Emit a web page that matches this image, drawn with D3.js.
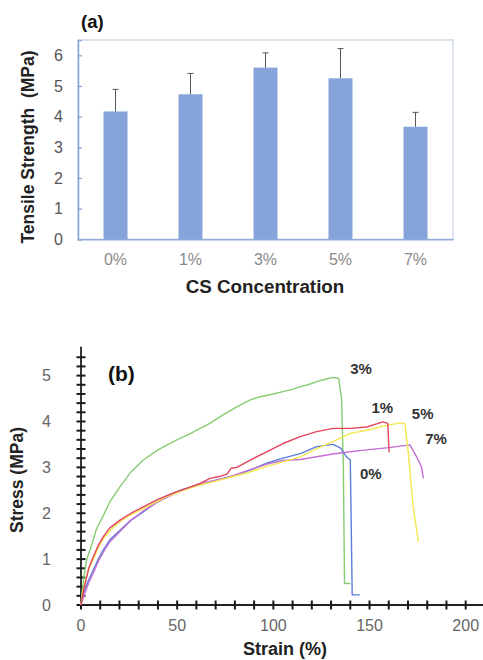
<!DOCTYPE html>
<html><head><meta charset="utf-8">
<script src="https://cdn.jsdelivr.net/npm/d3@7"></script>
<style>body{margin:0;background:#fff}svg{display:block}text{font-family:"Liberation Sans",Arial,sans-serif}</style>
</head><body>
<svg id="c" width="483" height="660"></svg>
<script>
// ---- Panel (a) data ----
const categories = ["0%", "1%", "3%", "5%", "7%"];
const strengthMean = [4.17, 4.73, 5.6, 5.25, 3.67];
const strengthErr = [0.72, 0.68, 0.48, 0.97, 0.47];
const yTicksA = [0, 1, 2, 3, 4, 5, 6];

// ---- Panel (b) data (strain %, stress MPa) ----
const strain0 = [0, 1.2, 3.5, 6.4, 9, 11.6, 15, 20.3, 26, 32.4, 38, 44.5, 53, 62, 70.5, 79, 88, 96.5, 105, 114, 122.5, 127, 131, 135, 138, 140, 140.4, 141, 145];
const stress0 = [0, 0.25, 0.5, 0.76, 1.0, 1.2, 1.42, 1.63, 1.85, 2.03, 2.2, 2.38, 2.52, 2.62, 2.72, 2.81, 2.94, 3.09, 3.2, 3.3, 3.45, 3.48, 3.5, 3.42, 3.23, 3.16, 2.0, 0.22, 0.22];
const strain1 = [0, 1.5, 4, 6.4, 9, 11.6, 15, 20.3, 26, 32.4, 40, 49.8, 56, 62, 67, 72, 76, 78, 81, 88, 96.5, 105, 114, 122.5, 131, 140, 148.5, 157, 159.5, 160, 160.2];
const stress1 = [0, 0.35, 0.8, 1.05, 1.3, 1.49, 1.68, 1.85, 2.0, 2.14, 2.3, 2.47, 2.56, 2.65, 2.76, 2.8, 2.86, 2.98, 3.0, 3.16, 3.34, 3.52, 3.67, 3.78, 3.85, 3.85, 3.88, 3.99, 3.96, 3.5, 3.33];
const strain3 = [0, 0.5, 1.5, 3, 5.5, 8, 11.6, 15, 20.3, 26, 32.4, 40, 49.8, 56, 62, 67, 74, 81, 88, 93, 100, 105, 110, 114, 118, 122.5, 127, 131, 134, 135.5, 136.4, 137, 140];
const stress3 = [0, 0.25, 0.6, 1.0, 1.3, 1.65, 1.95, 2.25, 2.58, 2.9, 3.16, 3.38, 3.6, 3.72, 3.85, 3.96, 4.15, 4.32, 4.47, 4.54, 4.6, 4.65, 4.7, 4.76, 4.8, 4.87, 4.92, 4.96, 4.94, 4.47, 3.0, 0.47, 0.47];
const strain5 = [0, 1.5, 4, 6.4, 9, 11.6, 15, 20.3, 26, 32.4, 44.5, 53, 62, 70, 79, 88, 96.5, 105, 114, 122.5, 131, 140, 148.5, 157, 166, 168.4, 170, 172.7, 175.4];
const stress5 = [0, 0.4, 0.78, 1.0, 1.25, 1.45, 1.62, 1.82, 1.97, 2.1, 2.36, 2.5, 2.62, 2.7, 2.8, 2.9, 3.02, 3.12, 3.23, 3.41, 3.56, 3.74, 3.81, 3.9, 3.97, 3.95, 3.38, 2.14, 1.38];
const strain7 = [0, 1.5, 4, 6.4, 9, 11.6, 15, 20.3, 26, 32.4, 40, 49.8, 62, 70, 79, 88, 96.5, 105, 114, 122.5, 131, 140, 148.5, 160, 171, 174.5, 177, 178];
const stress7 = [0, 0.2, 0.48, 0.7, 0.95, 1.15, 1.38, 1.6, 1.85, 2.05, 2.25, 2.45, 2.65, 2.72, 2.82, 2.95, 3.07, 3.15, 3.17, 3.23, 3.29, 3.34, 3.38, 3.43, 3.49, 3.23, 3.01, 2.76];
const curveNames = ["0%", "1%", "3%", "5%", "7%"];
const xTicksB = [0, 50, 100, 150, 200];
const yTicksB = [0, 1, 2, 3, 4, 5];

const svg = d3.select("#c");

// ================= Panel (a) =================
const xA = d3.scaleBand().domain(categories).range([78, 453]).paddingInner(0.68).paddingOuter(0.34);
const yA = d3.scaleLinear().domain([0, 6.5]).range([239.3, 40]);

svg.append("rect").attr("x", 78).attr("y", 40).attr("width", 375).attr("height", 199.3)
  .attr("fill", "none").attr("stroke", "#c9d5e6").attr("stroke-width", 1.3);

const bars = categories.map((c, i) => ({c, v: strengthMean[i], e: strengthErr[i]}));
svg.selectAll("rect.bar").data(bars).enter().append("rect").attr("class", "bar")
  .attr("x", d => xA(d.c)).attr("width", xA.bandwidth())
  .attr("y", d => yA(d.v)).attr("height", d => yA(0) - yA(d.v))
  .attr("fill", "#86a4da");

const eg = svg.selectAll("g.err").data(bars).enter().append("g").attr("class", "err");
eg.append("line").attr("x1", d => xA(d.c) + xA.bandwidth() / 2).attr("x2", d => xA(d.c) + xA.bandwidth() / 2)
  .attr("y1", d => yA(d.v)).attr("y2", d => yA(d.v + d.e)).attr("stroke", "#555").attr("stroke-width", 1);
eg.append("line").attr("x1", d => xA(d.c) + xA.bandwidth() / 2 - 3).attr("x2", d => xA(d.c) + xA.bandwidth() / 2 + 3)
  .attr("y1", d => yA(d.v + d.e)).attr("y2", d => yA(d.v + d.e)).attr("stroke", "#555").attr("stroke-width", 1);

const yAxA = svg.append("g").attr("transform", "translate(78,0)")
  .call(d3.axisLeft(yA).tickValues(yTicksA).tickSize(-4).tickPadding(15).tickFormat(d3.format("d")));
yAxA.select(".domain").attr("stroke", "#8eaadb").attr("stroke-width", 1.6);
yAxA.selectAll(".tick line").attr("stroke", "#7f9bd0").attr("stroke-width", 1.2);
yAxA.selectAll(".tick text").attr("fill", "#555").attr("font-size", 16).attr("font-family", "Liberation Sans, Arial, sans-serif");

const xAxA = svg.append("g").attr("transform", "translate(0,239.3)")
  .call(d3.axisBottom(xA).tickSize(0).tickPadding(14));
xAxA.select(".domain").attr("stroke", "#8eaadb").attr("stroke-width", 1.5);
xAxA.selectAll(".tick text").attr("fill", "#8a8a8a").attr("font-size", 16).attr("font-family", "Liberation Sans, Arial, sans-serif");

svg.append("text").attr("x", 265).attr("y", 293).attr("text-anchor", "middle")
  .attr("font-size", 18.8).attr("font-weight", "bold").attr("fill", "#222").text("CS Concentration");
svg.append("text").attr("transform", "translate(34,147) rotate(-90)").attr("text-anchor", "middle")
  .attr("font-size", 17.5).attr("font-weight", "bold").attr("fill", "#222").attr("xml:space", "preserve").text("Tensile Strength  (MPa)");
svg.append("text").attr("x", 81).attr("y", 28).attr("font-size", 18.5).attr("font-weight", "bold").attr("fill", "#111").text("(a)");

// ================= Panel (b) =================
const xB = d3.scaleLinear().domain([0, 209]).range([81, 483]);
const yB = d3.scaleLinear().domain([0, 5.63]).range([605, 346.7]);

const xMinor = d3.range(0, 210, 10);
const yMinor = d3.range(0, 28).map(i => i * 0.2);

// axis lines
svg.append("line").attr("x1", xB(0)).attr("x2", xB(209)).attr("y1", yB(0)).attr("y2", yB(0))
  .attr("stroke", "#222").attr("stroke-width", 1.8);
svg.append("line").attr("x1", xB(0)).attr("x2", xB(0)).attr("y1", yB(0)).attr("y2", yB(5.63))
  .attr("stroke", "#222").attr("stroke-width", 1.8);
// cross-shaped tick marks on both axes
svg.append("g").selectAll("line").data(xMinor).join("line")
  .attr("x1", d => xB(d)).attr("x2", d => xB(d))
  .attr("y1", yB(0) - 4.5).attr("y2", yB(0) + 4.5)
  .style("stroke", "#1a1a1a").style("stroke-width", "2px");
svg.append("g").selectAll("line").data(yMinor).join("line")
  .attr("y1", d => yB(d)).attr("y2", d => yB(d))
  .attr("x1", xB(0) - 4.5).attr("x2", xB(0) + 4.5)
  .style("stroke", "#1a1a1a").style("stroke-width", "2px");

svg.selectAll("text.xl").data(xTicksB).enter().append("text").attr("class", "xl")
  .attr("x", d => xB(d)).attr("y", 631).attr("text-anchor", "middle")
  .attr("font-size", 16).attr("fill", "#666").text(d => d);
svg.selectAll("text.yl").data(yTicksB).enter().append("text").attr("class", "yl")
  .attr("x", 51).attr("y", d => yB(d) + 5.5).attr("text-anchor", "end")
  .attr("font-size", 16).attr("fill", "#666").text(d => d);

const curves = [
  {n: "3%", x: strain3, y: stress3, col: "#86cc72"},
  {n: "0%", x: strain0, y: stress0, col: "#5a7fd8"},
  {n: "7%", x: strain7, y: stress7, col: "#c46fd4"},
  {n: "5%", x: strain5, y: stress5, col: "#f3e64e"},
  {n: "1%", x: strain1, y: stress1, col: "#e2445e"}
];
const line = d3.line().x(d => xB(d[0])).y(d => yB(d[1]));
svg.selectAll("path.crv").data(curves).enter().append("path").attr("class", "crv")
  .attr("d", d => line(d.x.map((v, i) => [v, d.y[i]])))
  .attr("fill", "none").attr("stroke", d => d.col).attr("stroke-width", 1.4).attr("stroke-linejoin", "round");

const labelPos = {"3%": [140, 5.03], "1%": [151, 4.18], "5%": [172, 4.05], "7%": [179, 3.5], "0%": [145, 2.75]};
svg.selectAll("text.cl").data(curveNames).enter().append("text").attr("class", "cl")
  .attr("x", d => xB(labelPos[d][0])).attr("y", d => yB(labelPos[d][1]))
  .attr("font-size", 15).attr("font-weight", "bold").attr("fill", "#333").text(d => d);

svg.append("text").attr("x", 108).attr("y", 381).attr("font-size", 21).attr("font-weight", "bold").attr("fill", "#111").text("(b)");
svg.append("text").attr("x", 285).attr("y", 655).attr("text-anchor", "middle")
  .attr("font-size", 18).attr("font-weight", "bold").attr("fill", "#222").text("Strain (%)");
svg.append("text").attr("transform", "translate(23,480) rotate(-90)").attr("text-anchor", "middle")
  .attr("font-size", 17.5).attr("font-weight", "bold").attr("fill", "#222").text("Stress (MPa)");
</script>
</body></html>
